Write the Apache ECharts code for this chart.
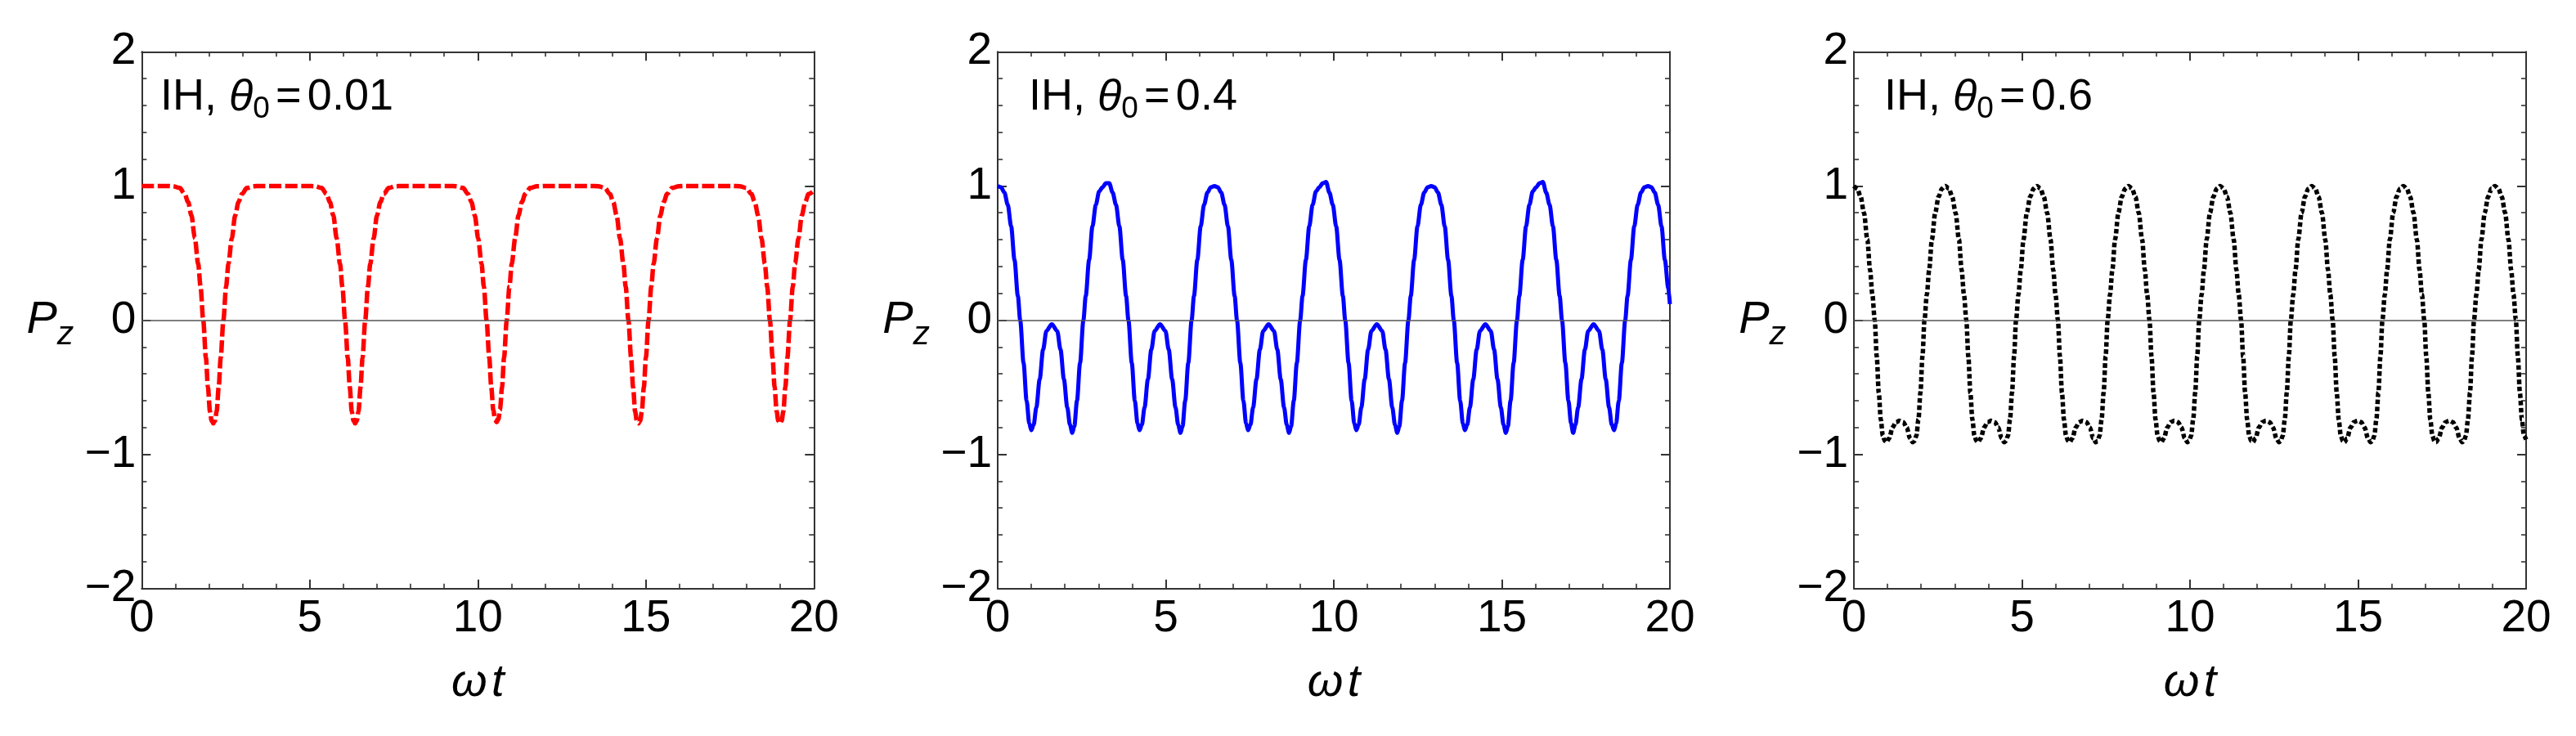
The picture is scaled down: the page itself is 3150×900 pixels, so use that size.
<!DOCTYPE html>
<html><head><meta charset="utf-8">
<script src="https://cdn.jsdelivr.net/npm/echarts@6/dist/echarts.min.js"></script>
<style>html,body{margin:0;padding:0;background:#fff}#c{width:3150px;height:900px}</style>
</head><body><div id="c"></div>
<script>
// axis ranges / ticks
const xMin = 0, xMax = 20, xStep = 5;
const yMin = -2, yMax = 2, yStep = 1;
const panelTheta = ['0.01', '0.4', '0.6'];

// Panel 1: IH, theta0 = 0.01 (red dashed)
const tRed = [0, 0.73, 0.93, 1.13, 1.28, 1.38, 1.48, 1.58, 1.68, 1.75, 1.83, 1.91, 1.97, 2.03, 2.08, 2.13, 2.18, 2.23, 2.29, 2.35, 2.43, 2.51, 2.58, 2.68, 2.78, 2.88, 2.98, 3.13, 3.33, 3.53,
  4.95, 5.15, 5.35, 5.5, 5.6, 5.7, 5.8, 5.9, 5.97, 6.05, 6.13, 6.19, 6.25, 6.3, 6.35, 6.4, 6.45, 6.51, 6.57, 6.65, 6.73, 6.8, 6.9, 7.0, 7.1, 7.2, 7.35, 7.55, 7.75,
  9.16, 9.36, 9.56, 9.71, 9.81, 9.91, 10.01, 10.11, 10.18, 10.26, 10.34, 10.4, 10.46, 10.51, 10.56, 10.61, 10.66, 10.72, 10.78, 10.86, 10.94, 11.01, 11.11, 11.21, 11.31, 11.41, 11.56, 11.76, 11.96,
  13.38, 13.58, 13.78, 13.93, 14.03, 14.13, 14.23, 14.33, 14.4, 14.48, 14.56, 14.62, 14.68, 14.73, 14.78, 14.83, 14.88, 14.94, 15.0, 15.08, 15.16, 15.23, 15.33, 15.43, 15.53, 15.63, 15.78, 15.98, 16.18,
  17.59, 17.79, 17.99, 18.14, 18.24, 18.34, 18.44, 18.54, 18.61, 18.69, 18.77, 18.83, 18.89, 18.94, 18.99, 19.04, 19.09, 19.15, 19.21, 19.29, 19.37, 19.44, 19.54, 19.64, 19.74, 19.84, 20.0];
const pRed = [1.0, 1.0, 0.998, 0.985, 0.94, 0.88, 0.78, 0.61, 0.42, 0.25, 0.0, -0.28, -0.5, -0.68, -0.75, -0.77, -0.75, -0.68, -0.5, -0.28, 0.0, 0.25, 0.42, 0.61, 0.78, 0.88, 0.94, 0.985, 0.998, 1.0,
  1.0, 0.998, 0.985, 0.94, 0.88, 0.78, 0.61, 0.42, 0.25, 0.0, -0.28, -0.5, -0.68, -0.75, -0.77, -0.75, -0.68, -0.5, -0.28, 0.0, 0.25, 0.42, 0.61, 0.78, 0.88, 0.94, 0.985, 0.998, 1.0,
  1.0, 0.998, 0.985, 0.94, 0.88, 0.78, 0.61, 0.42, 0.25, 0.0, -0.28, -0.5, -0.67, -0.74, -0.76, -0.74, -0.67, -0.5, -0.28, 0.0, 0.25, 0.42, 0.61, 0.78, 0.88, 0.94, 0.985, 0.998, 1.0,
  1.0, 0.998, 0.985, 0.94, 0.88, 0.78, 0.61, 0.42, 0.25, 0.0, -0.28, -0.5, -0.68, -0.75, -0.77, -0.75, -0.68, -0.5, -0.28, 0.0, 0.25, 0.42, 0.61, 0.78, 0.88, 0.94, 0.985, 0.998, 1.0,
  1.0, 0.998, 0.985, 0.94, 0.88, 0.78, 0.61, 0.42, 0.25, 0.0, -0.28, -0.5, -0.68, -0.75, -0.77, -0.75, -0.68, -0.5, -0.28, 0.0, 0.25, 0.42, 0.61, 0.78, 0.88, 0.94, 0.965];

// Panel 2: IH, theta0 = 0.4 (blue solid)
const tBlue = [0, 0.1, 0.2, 0.3, 0.4, 0.5, 0.6, 0.67, 0.77, 0.86, 0.94, 1.0, 1.07, 1.15, 1.25, 1.35, 1.45, 1.61, 1.77, 1.87, 1.97, 2.07, 2.15, 2.22, 2.28, 2.36, 2.45, 2.55, 2.62, 2.72, 2.82, 2.92, 3.02, 3.12,
  3.22, 3.32, 3.42, 3.52, 3.62, 3.72, 3.82, 3.89, 3.99, 4.08, 4.16, 4.22, 4.29, 4.37, 4.47, 4.57, 4.67, 4.83, 4.99, 5.09, 5.19, 5.29, 5.37, 5.44, 5.5, 5.58, 5.67, 5.77, 5.84, 5.94, 6.04, 6.14, 6.24, 6.34,
  6.45, 6.55, 6.65, 6.75, 6.85, 6.95, 7.05, 7.12, 7.22, 7.31, 7.39, 7.45, 7.52, 7.6, 7.7, 7.8, 7.9, 8.06, 8.22, 8.32, 8.42, 8.52, 8.6, 8.67, 8.73, 8.81, 8.9, 9.0, 9.07, 9.17, 9.27, 9.37, 9.47, 9.57,
  9.67, 9.77, 9.87, 9.97, 10.07, 10.17, 10.27, 10.34, 10.44, 10.53, 10.61, 10.67, 10.74, 10.82, 10.92, 11.02, 11.12, 11.28, 11.44, 11.54, 11.64, 11.74, 11.82, 11.89, 11.95, 12.03, 12.12, 12.22, 12.29, 12.39, 12.49, 12.59, 12.69, 12.79,
  12.9, 13.0, 13.1, 13.2, 13.3, 13.4, 13.5, 13.57, 13.67, 13.76, 13.84, 13.9, 13.97, 14.05, 14.15, 14.25, 14.35, 14.51, 14.67, 14.77, 14.87, 14.97, 15.05, 15.12, 15.18, 15.26, 15.35, 15.45, 15.52, 15.62, 15.72, 15.82, 15.92, 16.02,
  16.12, 16.22, 16.32, 16.42, 16.52, 16.62, 16.72, 16.79, 16.89, 16.98, 17.06, 17.12, 17.19, 17.27, 17.37, 17.47, 17.57, 17.73, 17.89, 17.99, 18.09, 18.19, 18.27, 18.34, 18.4, 18.48, 18.57, 18.67, 18.74, 18.84, 18.94, 19.04, 19.14, 19.24,
  19.35, 19.45, 19.55, 19.65, 19.75, 19.85, 19.95, 20.0];
const pBlue = [1.0, 0.99, 0.95, 0.86, 0.7, 0.45, 0.18, 0.0, -0.32, -0.6, -0.77, -0.82, -0.78, -0.65, -0.44, -0.22, -0.08, -0.03, -0.08, -0.22, -0.44, -0.65, -0.78, -0.84, -0.79, -0.6, -0.32, 0.0, 0.18, 0.45, 0.7, 0.86, 0.96, 0.99,
  1.02, 1.02, 0.95, 0.86, 0.7, 0.45, 0.18, 0.0, -0.32, -0.6, -0.77, -0.82, -0.78, -0.65, -0.44, -0.22, -0.08, -0.03, -0.08, -0.22, -0.44, -0.65, -0.78, -0.84, -0.79, -0.6, -0.32, 0.0, 0.18, 0.45, 0.7, 0.86, 0.95, 0.99,
  1.0, 0.99, 0.95, 0.86, 0.7, 0.45, 0.18, 0.0, -0.32, -0.6, -0.77, -0.82, -0.78, -0.65, -0.44, -0.22, -0.08, -0.03, -0.08, -0.22, -0.44, -0.65, -0.78, -0.84, -0.79, -0.6, -0.32, 0.0, 0.18, 0.45, 0.7, 0.86, 0.96, 0.99,
  1.02, 1.03, 0.95, 0.86, 0.7, 0.45, 0.18, 0.0, -0.32, -0.6, -0.77, -0.82, -0.78, -0.65, -0.44, -0.22, -0.08, -0.03, -0.08, -0.22, -0.44, -0.65, -0.78, -0.84, -0.79, -0.6, -0.32, 0.0, 0.18, 0.45, 0.7, 0.86, 0.95, 0.99,
  1.0, 0.99, 0.95, 0.86, 0.7, 0.45, 0.18, 0.0, -0.32, -0.6, -0.77, -0.82, -0.78, -0.65, -0.44, -0.22, -0.08, -0.03, -0.08, -0.22, -0.44, -0.65, -0.78, -0.84, -0.79, -0.6, -0.32, 0.0, 0.18, 0.45, 0.7, 0.86, 0.96, 0.99,
  1.02, 1.03, 0.95, 0.86, 0.7, 0.45, 0.18, 0.0, -0.32, -0.6, -0.77, -0.84, -0.78, -0.65, -0.44, -0.22, -0.08, -0.03, -0.08, -0.22, -0.44, -0.65, -0.78, -0.82, -0.77, -0.6, -0.32, 0.0, 0.18, 0.45, 0.7, 0.86, 0.95, 0.99,
  1.0, 0.99, 0.95, 0.86, 0.7, 0.45, 0.24, 0.12];

// Panel 3: IH, theta0 = 0.6 (black dotted)
const tBlack = [0, 0.1, 0.2, 0.3, 0.4, 0.48, 0.55, 0.62, 0.68, 0.74, 0.8, 0.86, 0.92, 0.97, 1.05, 1.15, 1.25, 1.36, 1.47, 1.57, 1.67, 1.75, 1.8, 1.86, 1.92, 1.98, 2.04, 2.1, 2.17, 2.24, 2.32, 2.42, 2.52, 2.62,
  2.725, 2.825, 2.925, 3.025, 3.125, 3.205, 3.275, 3.345, 3.405, 3.465, 3.525, 3.585, 3.645, 3.695, 3.775, 3.875, 3.975, 4.085, 4.195, 4.295, 4.395, 4.475, 4.525, 4.585, 4.645, 4.705, 4.765, 4.825, 4.895, 4.965, 5.045, 5.145, 5.245, 5.345,
  5.45, 5.55, 5.65, 5.75, 5.85, 5.93, 6.0, 6.07, 6.13, 6.19, 6.25, 6.31, 6.37, 6.42, 6.5, 6.6, 6.7, 6.81, 6.92, 7.02, 7.12, 7.2, 7.25, 7.31, 7.37, 7.43, 7.49, 7.55, 7.62, 7.69, 7.77, 7.87, 7.97, 8.07,
  8.175, 8.275, 8.375, 8.475, 8.575, 8.655, 8.725, 8.795, 8.855, 8.915, 8.975, 9.035, 9.095, 9.145, 9.225, 9.325, 9.425, 9.535, 9.645, 9.745, 9.845, 9.925, 9.975, 10.035, 10.095, 10.155, 10.215, 10.275, 10.345, 10.415, 10.495, 10.595, 10.695, 10.795,
  10.9, 11.0, 11.1, 11.2, 11.3, 11.38, 11.45, 11.52, 11.58, 11.64, 11.7, 11.76, 11.82, 11.87, 11.95, 12.05, 12.15, 12.26, 12.37, 12.47, 12.57, 12.65, 12.7, 12.76, 12.82, 12.88, 12.94, 13.0, 13.07, 13.14, 13.22, 13.32, 13.42, 13.52,
  13.625, 13.725, 13.825, 13.925, 14.025, 14.105, 14.175, 14.245, 14.305, 14.365, 14.425, 14.485, 14.545, 14.595, 14.675, 14.775, 14.875, 14.985, 15.095, 15.195, 15.295, 15.375, 15.425, 15.485, 15.545, 15.605, 15.665, 15.725, 15.795, 15.865, 15.945, 16.045, 16.145, 16.245,
  16.35, 16.45, 16.55, 16.65, 16.75, 16.83, 16.9, 16.97, 17.03, 17.09, 17.15, 17.21, 17.27, 17.32, 17.4, 17.5, 17.6, 17.71, 17.82, 17.92, 18.02, 18.1, 18.15, 18.21, 18.27, 18.33, 18.39, 18.45, 18.52, 18.59, 18.67, 18.77, 18.87, 18.97,
  19.075, 19.175, 19.275, 19.375, 19.475, 19.555, 19.625, 19.695, 19.755, 19.815, 19.875, 19.935, 20.0];
const pBlack = [1.0, 0.98, 0.92, 0.8, 0.6, 0.375, 0.19, 0.0, -0.27, -0.54, -0.74, -0.86, -0.9, -0.91, -0.88, -0.8, -0.76, -0.75, -0.76, -0.8, -0.88, -0.91, -0.9, -0.86, -0.74, -0.54, -0.27, 0.0, 0.19, 0.375, 0.6, 0.8, 0.92, 0.98,
  1.0, 0.98, 0.92, 0.8, 0.6, 0.375, 0.19, 0.0, -0.27, -0.54, -0.74, -0.86, -0.9, -0.91, -0.88, -0.8, -0.76, -0.75, -0.76, -0.8, -0.88, -0.91, -0.9, -0.86, -0.74, -0.54, -0.27, 0.0, 0.19, 0.375, 0.6, 0.8, 0.92, 0.98,
  1.0, 0.98, 0.92, 0.8, 0.6, 0.375, 0.19, 0.0, -0.27, -0.54, -0.74, -0.86, -0.9, -0.91, -0.88, -0.8, -0.76, -0.75, -0.76, -0.8, -0.88, -0.91, -0.9, -0.86, -0.74, -0.54, -0.27, 0.0, 0.19, 0.375, 0.6, 0.8, 0.92, 0.98,
  1.0, 0.98, 0.92, 0.8, 0.6, 0.375, 0.19, 0.0, -0.27, -0.54, -0.74, -0.86, -0.9, -0.91, -0.88, -0.8, -0.76, -0.75, -0.76, -0.8, -0.88, -0.91, -0.9, -0.86, -0.74, -0.54, -0.27, 0.0, 0.19, 0.375, 0.6, 0.8, 0.92, 0.98,
  1.0, 0.98, 0.92, 0.8, 0.6, 0.375, 0.19, 0.0, -0.27, -0.54, -0.74, -0.86, -0.9, -0.91, -0.88, -0.8, -0.76, -0.75, -0.76, -0.8, -0.88, -0.91, -0.9, -0.86, -0.74, -0.54, -0.27, 0.0, 0.19, 0.375, 0.6, 0.8, 0.92, 0.98,
  1.0, 0.98, 0.92, 0.8, 0.6, 0.375, 0.19, 0.0, -0.27, -0.54, -0.74, -0.86, -0.9, -0.91, -0.88, -0.8, -0.76, -0.75, -0.76, -0.8, -0.88, -0.91, -0.9, -0.86, -0.74, -0.54, -0.27, 0.0, 0.19, 0.375, 0.6, 0.8, 0.92, 0.98,
  1.0, 0.98, 0.92, 0.8, 0.6, 0.375, 0.19, 0.0, -0.27, -0.54, -0.74, -0.86, -0.9, -0.91, -0.88, -0.8, -0.76, -0.75, -0.76, -0.8, -0.88, -0.91, -0.9, -0.86, -0.74, -0.54, -0.27, 0.0, 0.19, 0.375, 0.6, 0.8, 0.92, 0.98,
  1.0, 0.98, 0.92, 0.8, 0.6, 0.375, 0.19, 0.0, -0.27, -0.54, -0.74, -0.86, -0.89];

const seriesT = [tRed, tBlue, tBlack];
const seriesP = [pRed, pBlue, pBlack];

// ---- layout / style ----
const FONT = 'Liberation Sans';
const gridLeft = [173.3, 1220, 2267];
const gridTop = 63.3, gridW = 822, gridH = 656.4;
const titleLeft = [191, 1253, 2299];
const lineStyles = [
  {color: '#ff0000', width: 5.5, type: [15, 4.5], cap: 'butt'},
  {color: '#0000ff', width: 5, type: 'solid'},
  {color: '#000000', width: 5.5, type: [5.5, 3.2], cap: 'butt'}
];
const frameColor = '#333333';

const grids = [], xAxes = [], yAxes = [], series = [], titles = [];
for (let i = 0; i < 3; i++) {
  grids.push({left: gridLeft[i], top: gridTop, width: gridW, height: gridH, containLabel: false});
  const tick = {show: true, inside: true, length: 11, lineStyle: {color: frameColor, width: 2}};
  const minor = (n) => ({show: true, splitNumber: n, length: 6, lineStyle: {color: frameColor, width: 1.6}});
  const line = {show: true, onZero: false, lineStyle: {color: frameColor, width: 2}};
  ['bottom', 'top'].forEach(pos => {
    xAxes.push({
      type: 'value', gridIndex: i, position: pos, min: xMin, max: xMax, interval: xStep,
      axisLine: line, axisTick: tick, minorTick: minor(5), splitLine: {show: false},
      axisLabel: {show: pos === 'bottom', fontSize: 55, fontFamily: FONT, color: '#000', margin: 10},
      name: pos === 'bottom' ? '{w|ω}{s| }{t|t}' : '',
      nameLocation: 'middle', nameGap: 88,
      nameTextStyle: {rich: {
        w: {fontSize: 56, fontStyle: 'italic', fontFamily: FONT, color: '#000'},
        s: {fontSize: 20, fontFamily: FONT},
        t: {fontSize: 56, fontStyle: 'italic', fontFamily: FONT, color: '#000'}
      }}
    });
  });
  ['left', 'right'].forEach(pos => {
    yAxes.push({
      type: 'value', gridIndex: i, position: pos, min: yMin, max: yMax, interval: yStep,
      axisLine: line, axisTick: tick, minorTick: minor(5), splitLine: {show: false},
      axisLabel: {show: pos === 'left', fontSize: 55, fontFamily: FONT, color: '#000', margin: 7,
        formatter: v => v < 0 ? '\u2212' + Math.abs(v) : String(v)},
      name: pos === 'left' ? '{p|P}{z|z}' : '',
      nameLocation: 'middle', nameRotate: 0, nameGap: 83,
      nameTextStyle: {rich: {
        p: {fontSize: 56, fontStyle: 'italic', fontFamily: FONT, color: '#000'},
        z: {fontSize: 41, fontStyle: 'italic', fontFamily: FONT, color: '#000', padding: [36, 0, 0, 0]}
      }}
    });
  });
  const t = seriesT[i], p = seriesP[i];
  series.push({
    type: 'line', xAxisIndex: 2 * i, yAxisIndex: 2 * i, data: [], z: 1, silent: true,
    markLine: {silent: true, symbol: 'none', animation: false, label: {show: false},
      lineStyle: {color: '#555', width: 1.6, type: 'solid'}, data: [{yAxis: 0}]}
  });
  series.push({
    type: 'line', xAxisIndex: 2 * i, yAxisIndex: 2 * i, z: 3,
    data: t.map((x, k) => [x, p[k]]),
    showSymbol: false, smooth: 0.3, smoothMonotone: 'x',
    lineStyle: lineStyles[i]
  });
  titles.push({
    text: '{a|IH,}{a| }{b|θ}{c|0}{s| }{a|=}{s| }{a|' + panelTheta[i] + '}',
    left: titleLeft[i], top: 82,
    textStyle: {fontWeight: 'normal', rich: {
      a: {fontSize: 54, fontWeight: 'normal', fontFamily: FONT, color: '#000'},
      b: {fontSize: 54, fontWeight: 'normal', fontStyle: 'italic', fontFamily: FONT, color: '#000'},
      c: {fontSize: 37, fontWeight: 'normal', fontFamily: FONT, color: '#000', padding: [28, 0, 0, 0]},
      s: {fontSize: 26, fontWeight: 'normal', fontFamily: FONT}
    }}
  });
}

const chart = echarts.init(document.getElementById('c'), null, {renderer: 'canvas'});
chart.setOption({
  animation: false,
  backgroundColor: '#fff',
  title: titles,
  grid: grids, xAxis: xAxes, yAxis: yAxes, series: series
});
</script></body></html>
